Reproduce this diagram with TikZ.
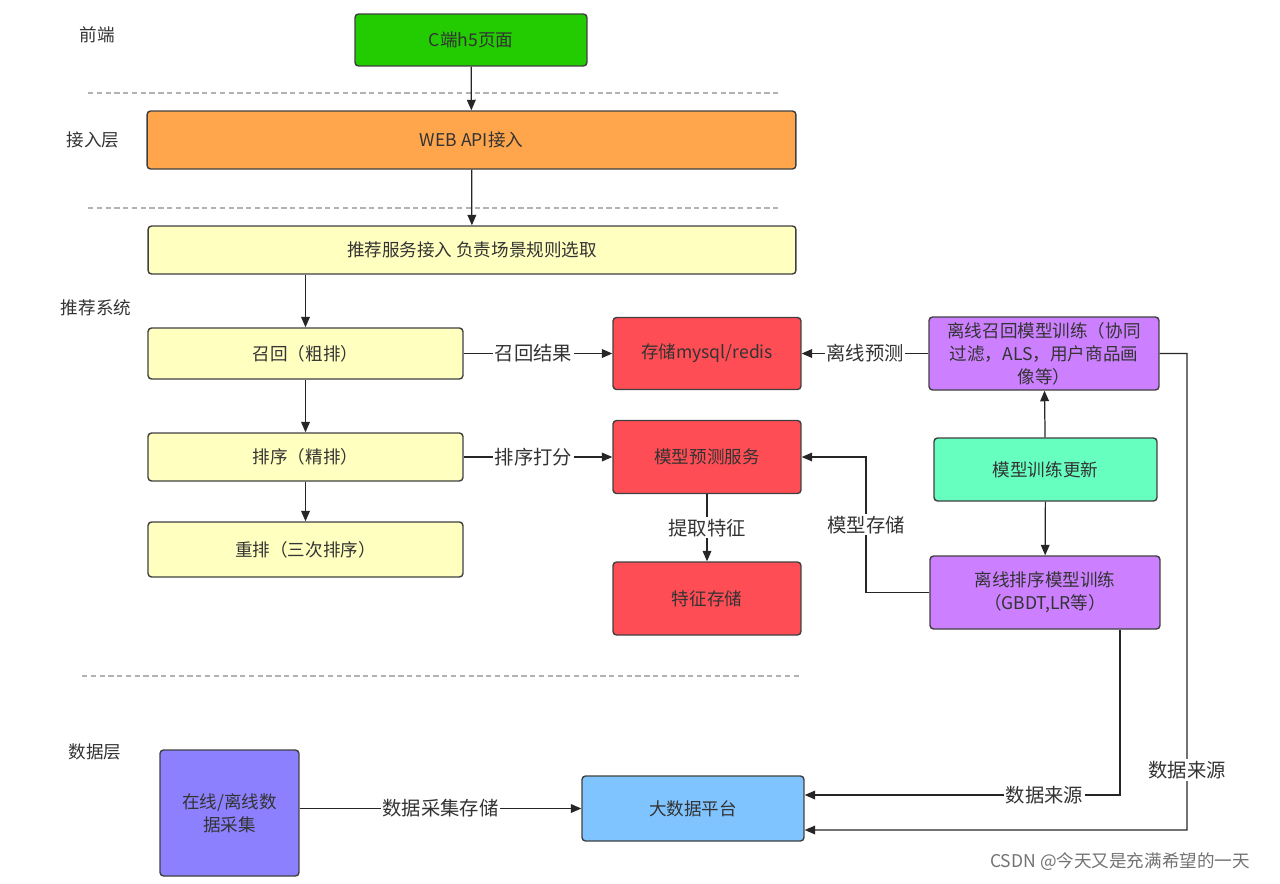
\documentclass[tikz,border=0pt]{standalone}
\usepackage{fontspec}
\setmainfont{Noto Sans CJK SC}
\usepackage{tikz}
\usetikzlibrary{positioning,calc,arrows.meta}

\definecolor{cGreen}{HTML}{22CC00}
\definecolor{cOrange}{HTML}{FFA64D}
\definecolor{cYellow}{HTML}{FFFFC0}
\definecolor{cRed}{HTML}{FF4D55}
\definecolor{cPurple}{HTML}{CC80FF}
\definecolor{cMint}{HTML}{66FFC0}
\definecolor{cIndigo}{HTML}{8C80FF}
\definecolor{cSky}{HTML}{80C4FF}
\definecolor{cText}{HTML}{333333}

\tikzset{
	box/.style={draw=black!75, line width=0.8pt, rounded corners=2pt, align=center,
		text=cText, font=\fontsize{10}{13}\selectfont, inner sep=2pt},
	layer/.style={draw=none, text=cText, font=\fontsize{10}{12}\selectfont},
	arr/.style={draw=black!85, line width=0.7pt, -{Triangle[length=6pt,width=5pt]}},
	lbl/.style={fill=white, inner sep=1pt, text=cText, font=\fontsize{11}{12}\selectfont},
	sep/.style={draw=black!30, line width=0.6pt, densely dashed}
}

\begin{document}
\begin{tikzpicture}[x=0.02cm, y=-0.02cm]
	\useasboundingbox (0,0) rectangle (1280,883);
	
	% layers
	\node [layer] (Lfront) at (97, 35) {前端};
	\node [layer] (Laccess) at (93, 140) {接入层};
	\node [layer] (Lrec) at (96, 308) {推荐系统};
	\node [layer] (Ldata) at (95, 752) {数据层};
	\draw [sep] (88, 93) -- (780, 93);
	\draw [sep] (88, 208) -- (780, 208);
	\draw [sep] (82, 676) -- (800, 676);
	
	\node [box, fill=cGreen, minimum width=4.64cm, minimum height=1.04cm] (H5) at (471, 40) {C端h5页面};
	\node [box, fill=cOrange, minimum width=12.98cm, minimum height=1.16cm] (API) at (471.5, 140) {WEB API接入};
	\node [box, fill=cYellow, minimum width=12.96cm, minimum height=0.96cm] (Svc) at (472, 250) {推荐服务接入 负责场景规则选取};
	\node [box, fill=cYellow, minimum width=6.3cm, minimum height=1.02cm] (Recall) at (305.5, 353.5) {召回（粗排）};
	\node [box, fill=cYellow, minimum width=6.3cm, minimum height=0.96cm] (Rank) at (305.5, 457) {排序（精排）};
	\node [box, fill=cYellow, minimum width=6.3cm, minimum height=1.1cm] (Rerank) at (305.5, 549.5) {重排（三次排序）};
	
	\node [box, fill=cRed, minimum width=3.76cm, minimum height=1.44cm] (Store) at (707, 353.5) {存储mysql/redis};
	\node [box, fill=cRed, minimum width=3.76cm, minimum height=1.46cm] (Pred) at (707, 457) {模型预测服务};
	\node [box, fill=cRed, minimum width=3.76cm, minimum height=1.46cm] (Feat) at (707, 598.5) {特征存储};
	
	\node [box, fill=cPurple, minimum width=4.6cm, minimum height=1.46cm] (OffRecall) at (1044, 353.5) {离线召回模型训练（协同\\过滤，ALS，用户商品画\\像等）};
	\node [box, fill=cMint, minimum width=4.46cm, minimum height=1.26cm] (Train) at (1045.5, 469.5) {模型训练更新};
	\node [box, fill=cPurple, minimum width=4.6cm, minimum height=1.46cm] (OffRank) at (1045, 592.5) {离线排序模型训练\\（GBDT,LR等）};
	
	\node [box, fill=cIndigo, minimum width=2.78cm, minimum height=2.52cm] (Collect) at (229.5, 813) {在线/离线数\\据采集};
	\node [box, fill=cSky, minimum width=4.44cm, minimum height=1.3cm] (BigData) at (693, 808.5) {大数据平台};
	
	\path [arr] (H5) -- (API);
	\path [arr] (API) -- (Svc);
	\path [arr] (Svc.south -| Recall) -- (Recall);
	\path [arr] (Recall) -- (Rank);
	\path [arr] (Rank) -- (Rerank);
	\path [arr] (Recall) -- (Store) node[lbl, pos=0.47]{召回结果};
	\path [arr] (Rank) -- (Pred) node[lbl, pos=0.47]{排序打分};
	\path [arr] (OffRecall) -- (Store) node[lbl, midway]{离线预测};
	\path [arr] (Pred) -- (Feat) node[lbl, pos=0.5]{提取特征};
	\path [arr] (OffRank.west) -| (866, 457) node[lbl, pos=0.75]{模型存储} -- (Pred.east);
	\path [arr] (Train) -- (OffRecall);
	\path [arr] (Train) -- (OffRank);
	\path [arr] ([xshift=1.5cm]OffRank.south) |- ([yshift=0.27cm]BigData.east) node[lbl, pos=0.62]{数据来源};
	\path [arr] (OffRecall.east) -| (1187, 830) node[lbl, pos=0.937]{数据来源} -- ([yshift=-0.43cm]BigData.east);
	\path [arr] (Collect.east |- BigData) -- (BigData) node[lbl, midway]{数据采集存储};
	
	\node [draw=none, text=black!55, font=\fontsize{10}{12}\selectfont] (Mark) at (1120, 862) {CSDN @今天又是充满希望的一天};
\end{tikzpicture}
\end{document}
